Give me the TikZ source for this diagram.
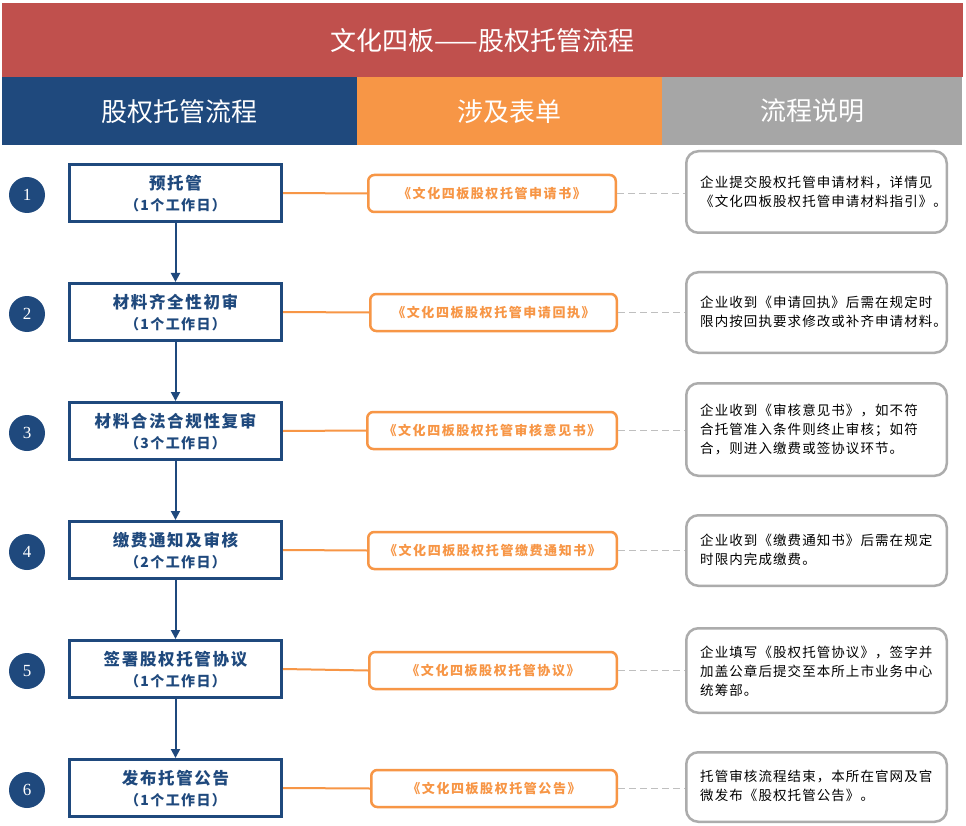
\documentclass[tikz,border=0pt]{standalone}
\usepackage{fontspec}
\newfontfamily\cjk{Noto Sans CJK SC}
\newfontfamily\cjkform[LetterSpace=12]{Noto Sans CJK SC}
\newfontfamily\cjkdesc[LetterSpace=8]{Noto Sans CJK SC}
\newfontfamily\cjkstep[LetterSpace=10]{Noto Sans CJK SC}
\newfontfamily\numfont{Liberation Serif}
\usetikzlibrary{arrows.meta}
\definecolor{navy}{RGB}{31,73,125}
\definecolor{redb}{RGB}{192,80,77}
\definecolor{orng}{RGB}{247,150,70}
\definecolor{grayh}{RGB}{166,166,166}
\definecolor{grayb}{RGB}{172,172,172}
\definecolor{dashc}{RGB}{191,191,191}
\tikzset{
  hdr/.style={anchor=north west, inner sep=0pt, text=white, font=\cjk\fontsize{26}{26}\selectfont},
  stepbox/.style={draw=navy, line width=3pt, minimum width=212pt, minimum height=57pt, inner sep=0pt, fill=white},
  steptitle/.style={text=navy, inner sep=0pt, font=\cjkstep\bfseries\fontsize{16.5}{16.5}\selectfont},
  stepdays/.style={text=navy, inner sep=0pt, font=\cjkstep\bfseries\fontsize{14}{14}\selectfont},
  numcirc/.style={circle, fill=navy, minimum size=36pt, inner sep=0pt, text=white, font=\numfont\fontsize{17}{17}\selectfont},
  formbox/.style={draw=orng, line width=2.5pt, rounded corners=6pt, minimum height=37pt, inner sep=0pt, text=orng, font=\cjkform\bfseries\fontsize{13}{13}\selectfont},
  descbox/.style={draw=grayb, line width=2.5pt, rounded corners=12pt, minimum width=260.5pt, inner sep=0pt},
  desctext/.style={anchor=west, align=left, inner sep=0pt, font=\cjkdesc\fontsize{13.5}{19}\selectfont},
  flowarrow/.style={draw=navy, line width=2pt, -{Triangle[width=9pt,length=9pt]}},
  formlink/.style={draw=orng, line width=2pt},
  desclink/.style={draw=dashc, line width=1.8pt, dash pattern=on 7pt off 4pt},
}
\begin{document}
\begin{tikzpicture}[x=1pt,y=-1pt]
\useasboundingbox (0,0) rectangle (966,826);
\fill[white] (0,0) rectangle (966,826);
% header
\node[hdr, fill=redb, minimum width=961pt, minimum height=74pt] (title) at (2,3) {文化四板——股权托管流程};
\node[hdr, fill=navy, minimum width=355pt, minimum height=68pt] (h1) at (2,77) {股权托管流程};
\node[hdr, fill=orng, minimum width=305pt, minimum height=68pt] (h2) at (357,77) {涉及表单};
\node[hdr, fill=grayh, minimum width=300pt, minimum height=68pt] (h3) at (662,77) {流程说明};
% steps
\node[stepbox] (s1) at (175.5,193) {};
\node[stepbox] (s2) at (175.5,312) {};
\node[stepbox] (s3) at (175.5,431) {};
\node[stepbox] (s4) at (175.5,550) {};
\node[stepbox] (s5) at (175.5,669) {};
\node[stepbox] (s6) at (175.5,788) {};
\node[steptitle] (t1) at (175.5,183) {预托管};
\node[stepdays] (y1) at (175.5,205) {（1个工作日）};
\node[steptitle] (t2) at (175.5,302) {材料齐全性初审};
\node[stepdays] (y2) at (175.5,324) {（1个工作日）};
\node[steptitle] (t3) at (175.5,421) {材料合法合规性复审};
\node[stepdays] (y3) at (175.5,443) {（3个工作日）};
\node[steptitle] (t4) at (175.5,540) {缴费通知及审核};
\node[stepdays] (y4) at (175.5,562) {（2个工作日）};
\node[steptitle] (t5) at (175.5,659) {签署股权托管协议};
\node[stepdays] (y5) at (175.5,681) {（1个工作日）};
\node[steptitle] (t6) at (175.5,778) {发布托管公告};
\node[stepdays] (y6) at (175.5,800) {（1个工作日）};
% numbers
\node[numcirc] (c1) at (27,195) {1};
\node[numcirc] (c2) at (27,314) {2};
\node[numcirc] (c3) at (27,433) {3};
\node[numcirc] (c4) at (27,552) {4};
\node[numcirc] (c5) at (27,671) {5};
\node[numcirc] (c6) at (27,790) {6};
% forms
\node[formbox, minimum width=247.5pt] (f1) at (492,193.5) {《文化四板股权托管申请书》};
\node[formbox, minimum width=246.5pt] (f2) at (493.5,312.5) {《文化四板股权托管申请回执》};
\node[formbox, minimum width=249.5pt] (f3) at (492,430.5) {《文化四板股权托管审核意见书》};
\node[formbox, minimum width=248.5pt] (f4) at (492.5,550.5) {《文化四板股权托管缴费通知书》};
\node[formbox, minimum width=247.5pt] (f5) at (493,670.5) {《文化四板股权托管协议》};
\node[formbox, minimum width=245.5pt] (f6) at (494,788.5) {《文化四板股权托管公告》};
% descriptions
\node[descbox, minimum height=81.5pt] (d1) at (816.5,192) {};
\node[descbox, minimum height=80.5pt] (d2) at (816.5,312.5) {};
\node[descbox, minimum height=92.5pt] (d3) at (816.5,429.5) {};
\node[descbox, minimum height=70.5pt] (d4) at (816.5,550.5) {};
\node[descbox, minimum height=84.5pt] (d5) at (816.5,670.5) {};
\node[descbox, minimum height=69.5pt] (d6) at (816.5,787) {};
\node[desctext] (e1) at (700,191.5) {企业提交股权托管申请材料，详情见\\《文化四板股权托管申请材料指引》。};
\node[desctext] (e2) at (700,312) {企业收到《申请回执》后需在规定时\\限内按回执要求修改或补齐申请材料。};
\node[desctext] (e3) at (700,429.5) {企业收到《审核意见书》，如不符\\合托管准入条件则终止审核；如符\\合，则进入缴费或签协议环节。};
\node[desctext] (e4) at (700,550) {企业收到《缴费通知书》后需在规定\\时限内完成缴费。};
\node[desctext] (e5) at (700,671) {企业填写《股权托管协议》，签字并\\加盖公章后提交至本所上市业务中心\\统筹部。};
\node[desctext] (e6) at (700,786) {托管审核流程结束，本所在官网及官\\微发布《股权托管公告》。};
% connectors
\draw[flowarrow] (s1.south) -- (s2.north);
\draw[flowarrow] (s2.south) -- (s3.north);
\draw[flowarrow] (s3.south) -- (s4.north);
\draw[flowarrow] (s4.south) -- (s5.north);
\draw[flowarrow] (s5.south) -- (s6.north);
\draw[formlink] (s1.east) -- (f1.west);
\draw[formlink] (s2.east) -- (f2.west);
\draw[formlink] (s3.east) -- (f3.west);
\draw[formlink] (s4.east) -- (f4.west);
\draw[formlink] (s5.east) -- (f5.west);
\draw[formlink] (s6.east) -- (f6.west);
\draw[desclink] (f1.east) -- (d1.west |- f1.east);
\draw[desclink] (f2.east) -- (d2.west |- f2.east);
\draw[desclink] (f3.east) -- (d3.west |- f3.east);
\draw[desclink] (f4.east) -- (d4.west |- f4.east);
\draw[desclink] (f5.east) -- (d5.west |- f5.east);
\draw[desclink] (f6.east) -- (d6.west |- f6.east);
\end{tikzpicture}
\end{document}
